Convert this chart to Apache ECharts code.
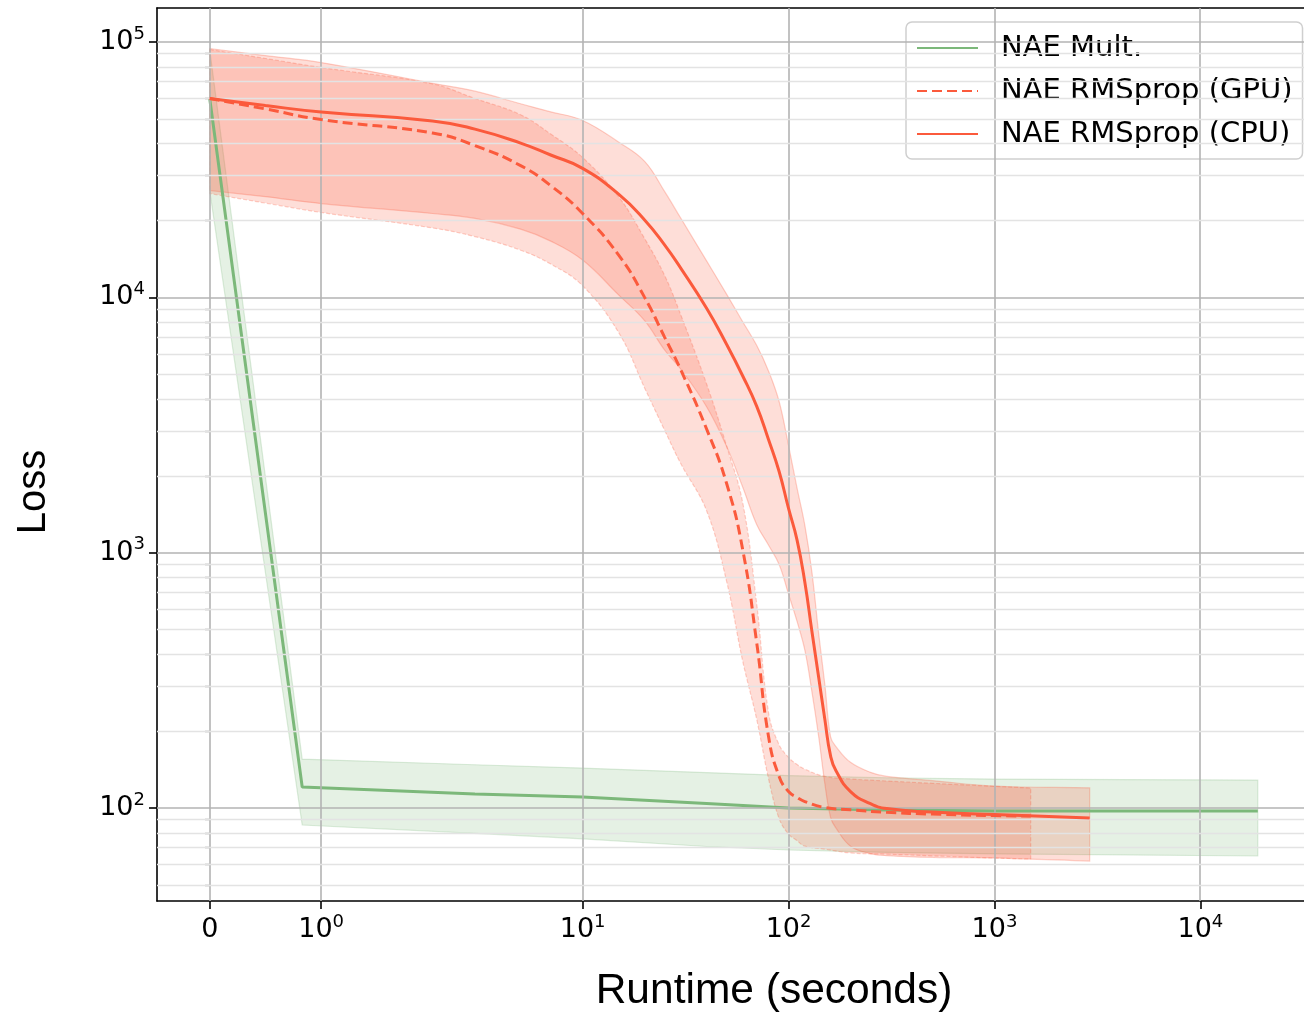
<!DOCTYPE html>
<html><head><meta charset="utf-8">
<script src="https://cdn.jsdelivr.net/npm/echarts@6/dist/echarts.min.js"></script>
<style>html,body{margin:0;padding:0;background:#fff}#chart{width:1304px;height:1015px}</style>
</head><body><div id="chart"></div>
<script>
// ---------- data ----------
const xTickValues = [0, 1, 10, 100, 1000, 10000];
const xTickLabels = ['0', '10^0', '10^1', '10^2', '10^3', '10^4'];
const yTickValues = [100, 1000, 10000, 100000];
const yTickLabels = ['10^2', '10^3', '10^4', '10^5'];

const seriesNames = ['NAE Mult.', 'NAE RMSprop (GPU)', 'NAE RMSprop (CPU)'];

const multX = [0, 0.83, 3, 10, 40, 100, 300, 1000, 19000];
const multY = [60100, 120.9, 113.6, 110.4, 104.1, 100.0, 98.2, 97.3, 97.3];
const multUpper = [93500, 155.5, 147.8, 143.4, 137.7, 134.0, 131.4, 129.9, 128.7];
const multLower = [26200, 85.8, 79.6, 75.8, 70.7, 68.5, 67.0, 66.1, 64.9];

const gpuX = [0, 0.5, 1, 2, 3, 5, 7, 10, 15, 20, 25, 30, 40, 50, 60, 70, 80, 90, 100, 110, 120, 150, 200, 300, 500, 1000, 1500];
const gpuY = [60100, 54700, 49700, 44000, 39300, 32800, 27400, 21300, 14600, 10000, 6990, 5190, 3050, 1870, 1020, 446, 190, 133, 116, 110, 106, 100.5, 98.5, 96.2, 94.7, 93.4, 93.0];
const gpuUpper = [93500, 86200, 79500, 68500, 60100, 51900, 43600, 35300, 24700, 17000, 12200, 8520, 4580, 2620, 1560, 634, 236, 177, 158, 148, 142, 133, 130, 127.6, 125, 121.6, 119.8];
const gpuLower = [25500, 23400, 21500, 18700, 17300, 15300, 13500, 11100, 7260, 4420, 3020, 2230, 1460, 774, 374, 223, 130, 91, 79.1, 74.5, 70.9, 69.0, 66.7, 66.0, 65.0, 63.7, 63.2];

const cpuX = [0, 0.5, 1, 2, 3, 5, 7, 10, 15, 20, 25, 30, 40, 50, 60, 70, 80, 90, 100, 110, 120, 130, 140, 150, 160, 170, 200, 250, 300, 500, 1000, 2900];
const cpuY = [60100, 56400, 53200, 49100, 45600, 40200, 36100, 32000, 25300, 20100, 16050, 12990, 9060, 6550, 4910, 3750, 2770, 2080, 1490, 1120, 766, 489, 326, 223, 160, 140, 116, 104, 99.5, 96.4, 94.3, 91.4];
const cpuUpper = [94300, 88500, 83100, 68900, 64200, 57300, 53300, 49300, 40500, 34100, 26000, 20400, 13900, 10300, 8010, 6490, 5140, 3910, 2630, 1790, 1280, 834, 484, 306, 190, 174, 151, 138, 133, 128, 122, 120];
const cpuLower = [26200, 24800, 23300, 21300, 20400, 18500, 16600, 14000, 10200, 8110, 6220, 5230, 3730, 2610, 1800, 1290, 1070, 899, 688, 538, 415, 284, 191, 125, 92, 83.5, 70.9, 66.3, 65.1, 64.1, 63.7, 62.0];

// ---------- symlog transform for x (linear below threshold, log above) ----------
const LIN_T = 2.09, LIN_SCALE = 1.131;
const sx = x => x <= LIN_T ? x * LIN_SCALE / LIN_T : LIN_SCALE + Math.log10(x / LIN_T);

const X_MIN = -0.256, X_MAX = 5.314;
const Y_MIN = 43.25, Y_MAX = 135900;

const yMinor = [];
[10, 100, 1000, 10000].forEach(d => { for (let k = 2; k <= 9; k++) { const v = k * d; if (v > Y_MIN && v < Y_MAX) yMinor.push(v); } });

const FONT = 'DejaVu Sans';
const RED = '#fb5a3c', GREEN = '#7cb87a';
const RED_FILL = 'rgba(251,90,60,0.2)', RED_EDGE = 'rgba(251,90,60,0.28)';
const GREEN_FILL = 'rgba(124,184,122,0.2)', GREEN_EDGE = 'rgba(124,184,122,0.25)';
const rich = {
  b: {fontFamily: FONT, fontSize: 27, lineHeight: 34, color: '#000'},
  s: {fontFamily: FONT, fontSize: 18, lineHeight: 23, verticalAlign: 'top', color: '#000'}
};
function fmtTick(label) {
  const p = label.split('^');
  return p.length > 1 ? '{b|' + p[0] + '}{s|' + p[1] + '}' : '{b|' + p[0] + '}';
}

// smooth cubic path through pixel points (rendering only)
function curveCmds(pts, smooth) {
  let d = '';
  const n = pts.length;
  for (let i = 0; i < n - 1; i++) {
    const p0 = pts[i - 1] || pts[i], p1 = pts[i], p2 = pts[i + 1], p3 = pts[i + 2] || pts[i + 1];
    if (!smooth) { d += ' L' + p2[0] + ' ' + p2[1]; continue; }
    const d01 = Math.hypot(p1[0] - p0[0], p1[1] - p0[1]), d12 = Math.hypot(p2[0] - p1[0], p2[1] - p1[1]), d23 = Math.hypot(p3[0] - p2[0], p3[1] - p2[1]);
    const s = 0.4;
    const f1 = (d01 + d12) > 0 ? s * d12 / (d01 + d12) : 0;
    const f2 = (d12 + d23) > 0 ? s * d12 / (d12 + d23) : 0;
    const c1 = [p1[0] + (p2[0] - p0[0]) * f1, p1[1] + (p2[1] - p0[1]) * f1];
    const c2 = [p2[0] - (p3[0] - p1[0]) * f2, p2[1] - (p3[1] - p1[1]) * f2];
    d += ' C' + c1[0] + ' ' + c1[1] + ' ' + c2[0] + ' ' + c2[1] + ' ' + p2[0] + ' ' + p2[1];
  }
  return d;
}

function band(name, xs, up, lo, fill, stroke, dash, smooth, z) {
  return {
    type: 'custom', name: name, z: z, silent: true, animation: false, clip: true,
    data: xs.map((x, i) => [sx(x), up[i], lo[i]]),
    encode: {x: 0, y: [1, 2]},
    renderItem: function (params, api) {
      if (params.dataIndex !== 0) return;
      const top = xs.map((x, i) => api.coord([sx(x), up[i]]));
      const bot = xs.map((x, i) => api.coord([sx(x), lo[i]])).reverse();
      const pathData = 'M' + top[0][0] + ' ' + top[0][1] + curveCmds(top, smooth) +
        ' L' + bot[0][0] + ' ' + bot[0][1] + curveCmds(bot, smooth) + ' Z';
      return {
        type: 'path',
        shape: {pathData: pathData},
        style: {fill: fill, stroke: stroke, lineWidth: 1.2, lineDash: dash ? [4, 2] : null}
      };
    }
  };
}

function lineSeries(name, xs, ys, color, dashed, smooth, z) {
  return {
    type: 'line', name: name, z: z, animation: false,
    data: xs.map((x, i) => [sx(x), ys[i]]),
    showSymbol: false, symbol: 'none',
    smooth: smooth ? 0.5 : false,
    lineStyle: {color: color, width: 3, type: dashed ? [10, 5] : 'solid'},
    itemStyle: {color: color}
  };
}

const gridMarks = [];
xTickValues.forEach(v => gridMarks.push({xAxis: sx(v), lineStyle: {color: '#b3b3b3', width: 1.6, type: 'solid'}}));
yMinor.forEach(v => gridMarks.push({yAxis: v, lineStyle: {color: '#e3e3e3', width: 1.4, type: 'solid'}}));
yTickValues.forEach(v => gridMarks.push({yAxis: v, lineStyle: {color: '#b3b3b3', width: 1.6, type: 'solid'}}));

const chart = echarts.init(document.getElementById('chart'), null, {renderer: 'canvas'});
chart.setOption({
  animation: false,
  backgroundColor: '#fff',
  grid: {left: 157, right: -6, top: 8, bottom: 114, containLabel: false},
  xAxis: [{
    type: 'value', min: X_MIN, max: X_MAX, position: 'bottom',
    axisLine: {show: true, onZero: false, lineStyle: {color: '#000', width: 1.6}},
    axisTick: {show: true, customValues: xTickValues.map(sx), length: 8, lineStyle: {color: '#000', width: 1.6}},
    axisLabel: {
      customValues: xTickValues.map(sx), margin: 12, rich: rich,
      formatter: function (v) {
        let best = 0;
        xTickValues.forEach((t, i) => { if (Math.abs(sx(t) - v) < Math.abs(sx(xTickValues[best]) - v)) best = i; });
        return fmtTick(xTickLabels[best]);
      }
    },
    splitLine: {show: false}
  }, {
    type: 'value', min: X_MIN, max: X_MAX, position: 'top',
    axisLine: {show: true, onZero: false, lineStyle: {color: '#000', width: 1.6}},
    axisTick: {show: false}, axisLabel: {show: false}, splitLine: {show: false}
  }],
  yAxis: [{
    type: 'log', min: Y_MIN, max: Y_MAX, position: 'left',
    axisLine: {show: true, onZero: false, lineStyle: {color: '#000', width: 1.6}},
    axisTick: {show: true, customValues: yTickValues, length: 8, lineStyle: {color: '#000', width: 1.6}},
    axisLabel: {
      customValues: yTickValues, margin: 12, rich: rich,
      formatter: function (v) {
        let best = 0;
        yTickValues.forEach((t, i) => { if (Math.abs(Math.log10(t) - Math.log10(v)) < Math.abs(Math.log10(yTickValues[best]) - Math.log10(v))) best = i; });
        return fmtTick(yTickLabels[best]);
      }
    },
    splitLine: {show: false}, minorTick: {show: false}
  }, {
    type: 'log', min: Y_MIN, max: Y_MAX, position: 'left',
    axisLine: {show: false},
    axisTick: {show: true, customValues: yMinor, length: 5, lineStyle: {color: '#000', width: 1.2}},
    axisLabel: {show: false}, splitLine: {show: false}
  }],
  legend: {
    data: seriesNames.map(n => ({name: n})),
    orient: 'vertical', left: 906, top: 22,
    itemWidth: 61, itemHeight: 2, itemGap: 13,
    itemStyle: {opacity: 0},
    padding: [11, 10, 10, 10],
    backgroundColor: 'rgba(255,255,255,0.8)', borderColor: '#cfcfcf', borderWidth: 1.5, borderRadius: 6,
    textStyle: {fontFamily: FONT, fontSize: 29, lineHeight: 30, color: '#000', padding: [0, 0, 0, 18]},
    selectedMode: false
  },
  graphic: [
    {type: 'text', x: 34, y: 492, rotation: Math.PI / 2, style: {text: 'Loss', font: '40px "Liberation Sans"', fill: '#000', textAlign: 'center', textVerticalAlign: 'middle'}, z: 100},
    {type: 'text', x: 774, y: 991, style: {text: 'Runtime (seconds)', font: '42.5px "Liberation Sans"', fill: '#000', textAlign: 'center', textVerticalAlign: 'middle'}, z: 100}
  ],
  series: [
    {
      type: 'line', name: 'grid', data: [], z: 0, silent: true, animation: false,
      markLine: {silent: true, symbol: 'none', animation: false, label: {show: false}, data: gridMarks}
    },
    band('multBand', multX, multUpper, multLower, GREEN_FILL, GREEN_EDGE, false, false, 1),
    band('gpuBand', gpuX, gpuUpper, gpuLower, RED_FILL, RED_EDGE, true, true, 2),
    band('cpuBand', cpuX, cpuUpper, cpuLower, RED_FILL, RED_EDGE, false, true, 3),
    lineSeries(seriesNames[0], multX, multY, GREEN, false, false, 4),
    lineSeries(seriesNames[1], gpuX, gpuY, RED, true, true, 5),
    lineSeries(seriesNames[2], cpuX, cpuY, RED, false, true, 6)
  ]
});
</script></body></html>
